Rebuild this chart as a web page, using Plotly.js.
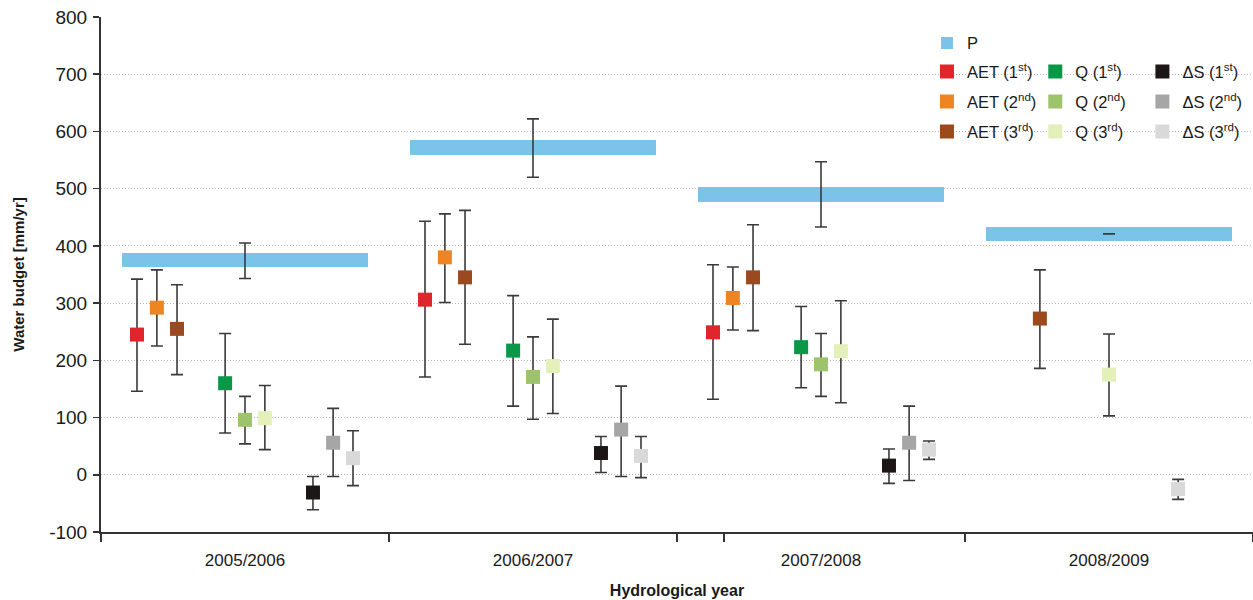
<!DOCTYPE html>
<html>
<head>
<meta charset="utf-8">
<script src="https://cdn.plot.ly/plotly-3.0.1.min.js"></script>
<style>html,body{margin:0;padding:0;background:#fff;}#chart{width:1253px;height:600px;}</style>
</head>
<body>
<div id="chart"></div>
<script>
// ---- data ----
const years = ['2005/2006', '2006/2007', '2007/2008', '2008/2009'];
const yTickVals = [-100, 0, 100, 200, 300, 400, 500, 600, 700, 800];
const yTickText = ['-100', '0', '100', '200', '300', '400', '500', '600', '700', '800'];

const P      = [375, 572, 490, 421];
const P_hi   = [405, 622, 547, 421];
const P_lo   = [343, 520, 433, 421];

const AET1    = [245, 306, 249, null];
const AET1_hi = [342, 443, 367, null];
const AET1_lo = [146, 171, 132, null];
const AET2    = [292, 380, 309, null];
const AET2_hi = [358, 456, 363, null];
const AET2_lo = [225, 301, 253, null];
const AET3    = [255, 345, 345, 273];
const AET3_hi = [332, 462, 437, 358];
const AET3_lo = [175, 228, 252, 186];

const Q1    = [160, 217, 223, null];
const Q1_hi = [247, 313, 294, null];
const Q1_lo = [73, 120, 152, null];
const Q2    = [96, 171, 193, null];
const Q2_hi = [137, 241, 247, null];
const Q2_lo = [54, 97, 137, null];
const Q3    = [99, 190, 216, 175];
const Q3_hi = [156, 272, 304, 246];
const Q3_lo = [44, 107, 126, 103];

const dS1    = [-31, 38, 16, null];
const dS1_hi = [-3, 67, 45, null];
const dS1_lo = [-61, 4, -15, null];
const dS2    = [56, 79, 56, null];
const dS2_hi = [116, 155, 120, null];
const dS2_lo = [-3, -3, -10, null];
const dS3    = [29, 33, 44, -25];
const dS3_hi = [77, 67, 59, -8];
const dS3_lo = [-19, -5, 27, -43];

// ---- styling / placement ----
const FONT = '"Liberation Sans", Arial, sans-serif';
const ERR_COLOR = '#3a3a3a';
const P_COLOR = '#7cc3e9';
const P_BAR_SPAN = 0.854;      // fraction of a category the P bar covers
const P_BAR_THICK = 25;        // bar thickness in y units

// x offsets inside a category (full three-estimate years / last year with only 3rd estimate)
const OFFS_FULL = {AET: [-0.375, -0.306, -0.236], Q: [-0.069, 0, 0.069], dS: [0.236, 0.306, 0.375]};
const OFFS_LAST = {AET: -0.24, Q: 0, dS: 0.24};

const series = [
  {name: 'AET (1<sup>st</sup>)', grp: 'AET', k: 0, v: AET1, hi: AET1_hi, lo: AET1_lo, color: '#e0252b', leg: [0, 1]},
  {name: 'AET (2<sup>nd</sup>)', grp: 'AET', k: 1, v: AET2, hi: AET2_hi, lo: AET2_lo, color: '#ef8522', leg: [0, 2]},
  {name: 'AET (3<sup>rd</sup>)', grp: 'AET', k: 2, v: AET3, hi: AET3_hi, lo: AET3_lo, color: '#9b4a1d', leg: [0, 3]},
  {name: 'Q (1<sup>st</sup>)',   grp: 'Q',   k: 0, v: Q1,   hi: Q1_hi,   lo: Q1_lo,   color: '#0b9748', leg: [1, 1]},
  {name: 'Q (2<sup>nd</sup>)',   grp: 'Q',   k: 1, v: Q2,   hi: Q2_hi,   lo: Q2_lo,   color: '#9dc46b', leg: [1, 2]},
  {name: 'Q (3<sup>rd</sup>)',   grp: 'Q',   k: 2, v: Q3,   hi: Q3_hi,   lo: Q3_lo,   color: '#e3f0b9', leg: [1, 3]},
  {name: '\u0394S (1<sup>st</sup>)', grp: 'dS', k: 0, v: dS1, hi: dS1_hi, lo: dS1_lo, color: '#1c1616', leg: [2, 1]},
  {name: '\u0394S (2<sup>nd</sup>)', grp: 'dS', k: 1, v: dS2, hi: dS2_hi, lo: dS2_lo, color: '#a6a6a6', leg: [2, 2]},
  {name: '\u0394S (3<sup>rd</sup>)', grp: 'dS', k: 2, v: dS3, hi: dS3_hi, lo: dS3_lo, color: '#d9d9d9', leg: [2, 3]}
];

// legend grid (paper coords)
const LEG_COL_X = [0.7170, 0.8110, 0.9040];
const LEG_ROW_Y = [0.9489, 0.8938, 0.8355, 0.7773];

const traces = [];
const layoutLegends = {};
let legN = 0;
function addLegend(col, row) {
  legN += 1;
  const id = legN === 1 ? 'legend' : 'legend' + legN;
  layoutLegends[id] = {
    x: LEG_COL_X[col], xanchor: 'left', y: LEG_ROW_Y[row], yanchor: 'middle',
    bgcolor: 'rgba(0,0,0,0)', borderwidth: 0,
    font: {family: FONT, size: 16.5, color: '#1a1a1a'}
  };
  return id;
}

// P as horizontal bars centred at the P value
traces.push({
  type: 'bar', orientation: 'h', name: 'P',
  y: P,
  x: P.map(() => P_BAR_SPAN),
  base: P.map((_, i) => i - P_BAR_SPAN / 2),
  width: P.map(() => P_BAR_THICK),
  marker: {color: P_COLOR, line: {width: 0}},
  legend: addLegend(0, 0), showlegend: true,
  hovertemplate: 'P: %{y}<extra></extra>'
});
// P uncertainty
traces.push({
  type: 'scatter', mode: 'markers', showlegend: false,
  x: P.map((_, i) => i), y: P,
  marker: {size: 1, opacity: 0},
  error_y: {type: 'data', symmetric: false,
    array: P.map((v, i) => P_hi[i] - v), arrayminus: P.map((v, i) => v - P_lo[i]),
    color: ERR_COLOR, thickness: 1.6, width: 6},
  hoverinfo: 'skip'
});

series.forEach(s => {
  const xs = [], ys = [], ep = [], em = [];
  s.v.forEach((v, i) => {
    if (v === null) return;
    const onlyThird = series.filter(o => o.grp === s.grp && o.k < 2).every(o => o.v[i] === null);
    const off = onlyThird ? OFFS_LAST[s.grp] : OFFS_FULL[s.grp][s.k];
    xs.push(i + off); ys.push(v);
    ep.push(s.hi[i] - v); em.push(v - s.lo[i]);
  });
  traces.push({
    type: 'scatter', mode: 'markers', name: s.name,
    x: xs, y: ys,
    marker: {symbol: 'square', size: 14, color: s.color, line: {width: 0}},
    error_y: {type: 'data', symmetric: false, array: ep, arrayminus: em,
      color: ERR_COLOR, thickness: 1.6, width: 6},
    legend: addLegend(s.leg[0], s.leg[1]),
    hovertemplate: '%{y}<extra></extra>'
  });
});

const layout = Object.assign({
  width: 1253, height: 600,
  margin: {l: 101, r: 0, t: 17, b: 68},
  paper_bgcolor: '#fff', plot_bgcolor: '#fff',
  font: {family: FONT, color: '#1a1a1a'},
  showlegend: true,
  bargap: 0,
  xaxis: {
    range: [-0.5, 3.5], fixedrange: true,
    tickmode: 'array', tickvals: [0, 1, 2, 3], ticktext: years,
    ticks: '', ticklabelstandoff: 12,
    tickfont: {family: FONT, size: 17, color: '#1a1a1a'},
    showgrid: false, zeroline: false,
    showline: true, linecolor: '#333', linewidth: 2,
    minor: {tickmode: 'array', tickvals: [-0.5, 0.5, 1.5, 1.663, 2.5, 3.5], ticks: 'outside', ticklen: 8, tickwidth: 1.5, tickcolor: '#333', showgrid: false},
    title: {text: '<b>Hydrological year</b>', font: {family: FONT, size: 16, color: '#1a1a1a'}, standoff: 15},
    automargin: false
  },
  yaxis: {
    range: [-100, 800], fixedrange: true,
    tickmode: 'array', tickvals: yTickVals, ticktext: yTickText,
    ticks: 'outside', ticklen: 6, tickwidth: 1.5, tickcolor: '#333',
    tickfont: {family: FONT, size: 19, color: '#1a1a1a'},
    ticklabelstandoff: 2,
    showgrid: false, zeroline: false,
    showline: true, linecolor: '#333', linewidth: 2,
    minor: {tickmode: 'array', tickvals: [0, 100, 200, 300, 400, 500, 600, 700], ticks: '', showgrid: true, griddash: '1px,2px', gridcolor: '#b5b5b5', gridwidth: 1},
    title: {text: '<b>Water budget [mm/yr]</b>', font: {family: FONT, size: 15, color: '#1a1a1a'}, standoff: 21},
    automargin: false
  },
  shapes: [{
    type: 'rect', xref: 'paper', yref: 'paper', layer: 'between',
    x0: 0.723, x1: 0.991, y0: 0.7515, y1: 0.9786,
    fillcolor: '#fff', line: {width: 0}
  }]
}, layoutLegends);

Plotly.newPlot('chart', traces, layout, {displayModeBar: false, staticPlot: true});
</script>
</body>
</html>
